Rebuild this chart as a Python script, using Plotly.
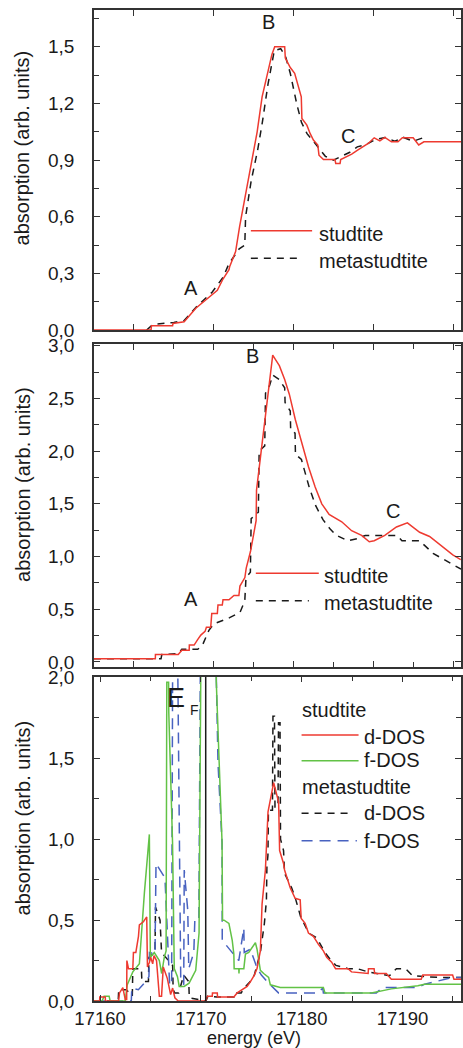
import plotly.graph_objects as go

# ---------------- data (energy in eV, absorption in arb. units) ----------------
# top panel: experimental XANES
xanes_studtite = [
    (17155.0, 0.0), (17162.15, 0.0), (17162.2, 0.023), (17164.85, 0.023), (17164.9, 0.035),
    (17166.3, 0.044), (17167.76, 0.115), (17169.0, 0.16), (17169.75, 0.185), (17170.46, 0.21),
    (17171.17, 0.27), (17171.92, 0.32), (17172.0, 0.335), (17172.75, 0.415), (17173.25, 0.547),
    (17174.0, 0.715), (17174.7, 0.865), (17175.45, 1.05), (17176.07, 1.235), (17176.82, 1.376),
    (17177.3, 1.46), (17177.65, 1.5), (17178.9, 1.5), (17178.98, 1.44), (17179.6, 1.39),
    (17180.15, 1.36), (17180.64, 1.29), (17180.98, 1.235), (17181.06, 1.12), (17181.68, 1.085),
    (17182.1, 1.04), (17182.5, 1.006), (17183.05, 0.98), (17183.2, 0.926), (17183.76, 0.903),
    (17185.2, 0.903), (17185.3, 0.882), (17185.84, 0.882), (17185.92, 0.903), (17186.67, 0.918),
    (17187.3, 0.932), (17188.04, 0.953), (17188.75, 0.974), (17189.37, 0.988), (17190.12, 1.018),
    (17190.83, 1.002), (17191.45, 1.02), (17192.28, 0.997), (17193.1, 0.997), (17193.65, 1.018),
    (17195.0, 1.018), (17195.7, 0.98), (17196.35, 0.997), (17201.0, 0.997),
]
xanes_metastudtite = [
    (17161.6, 0.0), (17162.4, 0.03), (17165.0, 0.04), (17166.3, 0.05), (17168.0, 0.13),
    (17169.8, 0.2), (17171.2, 0.28), (17171.9, 0.35), (17173.2, 0.43), (17173.9, 0.45),
    (17174.0, 0.6), (17174.7, 0.79), (17175.5, 0.95), (17176.1, 1.1), (17176.8, 1.3),
    (17177.6, 1.48), (17178.4, 1.49), (17179.0, 1.45), (17179.6, 1.36), (17180.4, 1.2),
    (17181.0, 1.1), (17181.7, 1.04), (17182.5, 1.0), (17183.2, 0.96), (17184.0, 0.92),
    (17185.0, 0.9), (17186.0, 0.92), (17187.0, 0.94), (17188.0, 0.97), (17189.0, 0.98),
    (17190.3, 1.01), (17191.5, 1.02), (17192.7, 1.0), (17193.8, 1.02), (17195.0, 1.0),
    (17196.4, 1.02),
]
# middle panel: calculated XANES
calc_studtite = [
    (17155.0, 0.03), (17162.69, 0.03), (17162.7, 0.07), (17165.56, 0.07), (17166.01, 0.11),
    (17166.5, 0.11), (17166.93, 0.11), (17166.95, 0.16), (17167.55, 0.16), (17167.97, 0.21),
    (17168.39, 0.255), (17168.92, 0.29), (17169.09, 0.33), (17169.63, 0.33), (17169.76, 0.46),
    (17170.46, 0.46), (17170.54, 0.54), (17171.08, 0.54), (17171.17, 0.59), (17171.92, 0.59),
    (17172.54, 0.63), (17173.16, 0.63), (17173.29, 0.72), (17173.91, 0.8), (17174.08, 0.89),
    (17174.62, 1.05), (17175.03, 1.23), (17175.32, 1.34), (17175.37, 1.63), (17175.66, 1.82),
    (17176.07, 2.04), (17176.49, 2.33), (17176.9, 2.62), (17177.4, 2.91), (17177.73, 2.87),
    (17178.23, 2.81), (17178.9, 2.68), (17179.48, 2.54), (17180.23, 2.3), (17181.06, 2.08),
    (17181.89, 1.85), (17182.72, 1.66), (17183.55, 1.5), (17184.47, 1.4), (17186.05, 1.33),
    (17187.29, 1.245), (17188.54, 1.2), (17189.5, 1.14), (17190.12, 1.15), (17191.45, 1.2),
    (17192.91, 1.28), (17194.28, 1.32), (17195.82, 1.23), (17197.06, 1.19), (17198.52, 1.1),
    (17199.97, 1.015), (17200.97, 0.97),
]
calc_metastudtite = [
    (17155.0, 0.03), (17163.4, 0.03), (17163.5, 0.07), (17165.6, 0.08), (17166.0, 0.12),
    (17168.0, 0.12), (17168.6, 0.16), (17169.4, 0.3), (17170.0, 0.36), (17172.0, 0.42),
    (17173.3, 0.47), (17173.9, 0.58), (17174.05, 0.8), (17174.6, 0.85), (17174.7, 1.36),
    (17175.6, 1.42), (17175.7, 2.0), (17176.4, 2.05), (17176.5, 2.55), (17177.0, 2.62),
    (17177.4, 2.72), (17178.2, 2.68), (17178.9, 2.6), (17178.95, 2.46), (17179.6, 2.38),
    (17179.65, 2.2), (17180.2, 2.17), (17180.25, 1.97), (17181.0, 1.92), (17182.0, 1.65),
    (17182.8, 1.48), (17183.7, 1.35), (17184.6, 1.26), (17185.4, 1.2), (17186.8, 1.15),
    (17188.0, 1.17), (17189.0, 1.2), (17193.0, 1.2), (17193.6, 1.15), (17195.8, 1.15),
    (17197.5, 1.03), (17199.5, 0.94), (17201.0, 0.88),
]
# bottom panel: projected densities of states
ddos_studtite = [
    (17159.4, 0.0), (17159.96, 0.0), (17159.97, 0.025), (17160.52, 0.025), (17160.53, 0.0),
    (17161.84, 0.0), (17161.93, 0.05), (17162.26, 0.083), (17162.5, 0.01), (17162.64, 0.01),
    (17162.66, 0.25), (17162.82, 0.2), (17163.25, 0.2), (17163.31, 0.3), (17163.55, 0.3),
    (17163.81, 0.4), (17163.9, 0.47), (17164.3, 0.49), (17164.63, 0.52), (17164.7, 0.21),
    (17164.9, 0.24), (17165.02, 0.27), (17165.22, 0.23), (17165.35, 0.28), (17165.6, 0.25),
    (17165.88, 0.03), (17166.1, 0.03), (17166.27, 0.21), (17166.67, 0.14), (17167.0, 0.04),
    (17167.2, 0.08), (17167.42, 0.02), (17167.75, 0.0), (17170.5, 0.0), (17170.64, 0.03),
    (17171.13, 0.03), (17171.15, 0.05), (17171.63, 0.05), (17171.65, 0.025), (17173.27, 0.025),
    (17173.6, 0.05), (17174.09, 0.07), (17174.59, 0.09), (17174.92, 0.12), (17175.3, 0.16),
    (17175.57, 0.2), (17175.9, 0.31), (17176.07, 0.6), (17176.4, 0.81), (17176.66, 1.17),
    (17177.22, 1.35), (17177.71, 1.23), (17177.81, 0.93), (17178.2, 0.85), (17178.3, 0.81),
    (17178.86, 0.7), (17179.35, 0.635), (17179.85, 0.625), (17179.95, 0.51), (17180.34, 0.48),
    (17180.67, 0.42), (17181.16, 0.4), (17181.66, 0.35), (17182.15, 0.31), (17182.48, 0.27),
    (17182.97, 0.24), (17183.36, 0.2), (17184.61, 0.2), (17184.94, 0.18), (17186.59, 0.17),
    (17186.62, 0.2), (17187.18, 0.2), (17187.24, 0.17), (17188.39, 0.17), (17188.89, 0.135),
    (17191.85, 0.135), (17192.01, 0.16), (17194.97, 0.16), (17195.1, 0.135), (17195.8, 0.135),
]
fdos_studtite = [
    (17159.4, 0.0), (17160.2, 0.0), (17160.4, 0.03), (17160.9, 0.03), (17161.0, 0.0),
    (17162.5, 0.0), (17162.69, 0.1), (17163.25, 0.18), (17163.9, 0.23), (17164.4, 0.67),
    (17164.89, 1.03), (17164.99, 0.27), (17165.38, 0.3), (17165.88, 0.25), (17166.11, 0.17),
    (17166.37, 0.27), (17166.55, 0.31), (17166.62, 1.97), (17166.8, 1.97), (17166.82, 1.78),
    (17167.19, 0.98), (17167.36, 0.2), (17167.68, 0.15), (17167.85, 0.09), (17168.34, 0.09),
    (17168.83, 0.11), (17169.49, 0.19), (17169.82, 0.42), (17170.0, 2.1), (17171.5, 2.1),
    (17171.53, 1.97), (17172.1, 0.98), (17172.15, 0.5), (17172.3, 0.5), (17172.78, 0.48),
    (17173.11, 0.375), (17173.27, 0.29), (17173.3, 0.2), (17173.76, 0.2), (17173.78, 0.17),
    (17173.8, 0.2), (17174.26, 0.2), (17174.42, 0.29), (17174.75, 0.3), (17175.41, 0.36),
    (17175.57, 0.32), (17175.9, 0.19), (17176.23, 0.17), (17176.72, 0.146), (17176.89, 0.1),
    (17177.87, 0.083), (17182.15, 0.083), (17182.31, 0.05), (17186.91, 0.05), (17188.89, 0.075),
    (17191.52, 0.094), (17192.17, 0.104), (17195.8, 0.104),
]
ddos_metastudtite = [
    (17159.4, 0.0), (17161.8, 0.0), (17161.85, 0.07), (17162.6, 0.07), (17163.2, 0.03),
    (17163.25, 0.2), (17164.1, 0.2), (17164.15, 0.12), (17164.8, 0.12), (17164.85, 0.27),
    (17165.45, 0.3), (17165.5, 0.58), (17165.95, 0.5), (17166.0, 0.42), (17166.1, 0.3),
    (17167.2, 0.22), (17167.25, 0.07), (17167.4, 0.05), (17167.8, 0.05), (17168.3, 0.16),
    (17168.8, 0.12), (17168.85, 0.02), (17170.2, 0.0), (17170.5, 0.0), (17170.7, 0.03),
    (17171.6, 0.025), (17173.27, 0.025), (17173.3, 0.05), (17174.0, 0.05), (17174.3, 0.08),
    (17174.9, 0.12), (17175.3, 0.16), (17175.9, 0.3), (17176.3, 0.48), (17176.5, 0.62),
    (17176.55, 0.83), (17176.65, 0.9), (17176.7, 1.18), (17177.1, 1.18), (17177.15, 1.76),
    (17177.3, 1.76), (17177.35, 1.2), (17177.65, 1.2), (17177.7, 1.72), (17177.85, 1.72),
    (17177.9, 1.0), (17178.2, 0.93), (17178.3, 0.79), (17179.0, 0.7), (17179.35, 0.64),
    (17179.9, 0.52), (17180.7, 0.42), (17181.5, 0.39), (17182.3, 0.3), (17182.8, 0.26),
    (17183.4, 0.22), (17184.6, 0.2), (17185.5, 0.2), (17186.6, 0.18), (17188.7, 0.156),
    (17189.4, 0.2), (17190.3, 0.2), (17191.0, 0.156), (17193.5, 0.146), (17195.8, 0.146),
]
fdos_metastudtite = [
    (17159.4, 0.0), (17163.1, 0.0), (17163.15, 0.08), (17163.8, 0.07), (17164.46, 0.115),
    (17164.85, 0.15), (17164.9, 0.3), (17165.45, 0.29), (17165.55, 0.85), (17165.95, 0.81),
    (17166.44, 0.76), (17166.9, 0.1), (17167.1, 0.1), (17167.2, 2.1), (17167.7, 2.1),
    (17167.75, 1.8), (17168.0, 0.15), (17168.3, 0.1), (17168.35, 0.81), (17168.7, 0.56),
    (17168.8, 0.2), (17169.3, 0.3), (17169.4, 0.5), (17169.8, 0.5), (17169.95, 2.1),
    (17171.5, 2.1), (17171.53, 1.99), (17171.7, 1.47), (17172.1, 0.98), (17172.12, 0.375),
    (17173.76, 0.25), (17174.26, 0.45), (17174.3, 0.3), (17174.9, 0.32), (17175.6, 0.2),
    (17176.0, 0.16), (17176.72, 0.11), (17177.7, 0.05), (17181.6, 0.05), (17182.1, 0.08),
    (17182.15, 0.05), (17187.4, 0.05), (17188.0, 0.083), (17191.5, 0.083), (17192.2, 0.104),
    (17193.5, 0.125), (17195.0, 0.146), (17195.8, 0.146),
]
fermi_energy = 17170.48

# ticks
x_ticks_upper = [17160, 17170, 17180, 17190, 17200]
x_minor_upper = [17165, 17175, 17185, 17195]
x_ticks_dos = [17160, 17170, 17180, 17190]
x_ticklabels_dos = ["17160", "17170", "17180", "17190"]
x_minor_dos = [17165, 17175, 17185, 17195]
y1_ticks = [0.0, 0.3, 0.6, 0.9, 1.2, 1.5]
y1_labels = ["0,0", "0,3", "0,6", "0,9", "1,2", "1,5"]
y1_minor = [0.15, 0.45, 0.75, 1.05, 1.35, 1.65]
y2_ticks = [0.0, 0.5, 1.0, 1.5, 2.0, 2.5, 3.0]
y2_labels = ["0,0", "0,5", "1,0", "1,5", "2,0", "2,5", "3,0"]
y2_minor = [0.25, 0.75, 1.25, 1.75, 2.25, 2.75]
y3_ticks = [0.0, 0.5, 1.0, 1.5, 2.0]
y3_labels = ["0,0", "0,5", "1,0", "1,5", "2,0"]
y3_minor = [0.25, 0.75, 1.25, 1.75]

y_title = "absorption (arb. units)"
x_title = "energy (eV)"

# ---------------- styling ----------------
FONT = "Liberation Sans, Arial, Helvetica, sans-serif"
TXT = "#1a1a1a"
AX = "#333333"
RED = "#ee3a30"
GREEN = "#62c246"
BLUE = "#4862c0"
BLACK = "#1a1a1a"
DASH_BLACK = "7px,6px"
DASH_BLUE = "11px,7px"

W, H = 463, 1048
ML, MR, MT, MB = 94, 0, 10, 47
PW, PH = W - ML - MR, H - MT - MB


def pp(px, py):
    """pixel position -> paper coordinates"""
    return (px - ML) / PW, (H - MB - py) / PH


fig = go.Figure()


def add_line(pairs, color, dash, ax, name):
    fig.add_trace(go.Scatter(
        x=[p[0] for p in pairs], y=[p[1] for p in pairs], mode="lines", name=name,
        showlegend=False, line=dict(color=color, width=1.5, dash=dash),
        xaxis="x" + ax, yaxis="y" + ax))


add_line(xanes_metastudtite, BLACK, DASH_BLACK, "", "metastudtite")
add_line(xanes_studtite, RED, "solid", "", "studtite")
add_line(calc_metastudtite, BLACK, DASH_BLACK, "2", "metastudtite")
add_line(calc_studtite, RED, "solid", "2", "studtite")
add_line(ddos_metastudtite, BLACK, DASH_BLACK, "3", "metastudtite d-DOS")
add_line(fdos_metastudtite, BLUE, DASH_BLUE, "3", "metastudtite f-DOS")
add_line(fdos_studtite, GREEN, "solid", "3", "studtite f-DOS")
add_line(ddos_studtite, RED, "solid", "3", "studtite d-DOS")

axis_base = dict(showline=True, linecolor=AX, linewidth=1.5, mirror="ticks", ticks="inside",
                 ticklen=6, tickwidth=1.2, tickcolor=AX, showgrid=False, zeroline=False,
                 tickfont=dict(family=FONT, size=19, color=TXT))
minor_base = dict(ticks="inside", ticklen=5, tickwidth=1.2, tickcolor=AX, showgrid=False)

d1 = [pp(0, 330)[1], pp(0, 10)[1]]
d2 = [pp(0, 666.7)[1], pp(0, 344.3)[1]]
d3 = [pp(0, 1001)[1], pp(0, 676.7)[1]]

fig.update_layout(
    width=W, height=H, margin=dict(l=ML, r=MR, t=MT, b=MB),
    paper_bgcolor="white", plot_bgcolor="white", showlegend=False,
    font=dict(family=FONT, size=20, color=TXT),
    xaxis=dict(axis_base, domain=[0, 1], anchor="y", range=[17155, 17201],
               tickvals=x_ticks_upper, showticklabels=False),
    yaxis=dict(axis_base, domain=d1, anchor="x", range=[0, 1.695], tickvals=y1_ticks,
               ticktext=y1_labels, minor=dict(minor_base, tickvals=y1_minor),
               ticklabelstandoff=14),
    xaxis2=dict(axis_base, domain=[0, 1], anchor="y2", range=[17155, 17201],
                tickvals=x_ticks_upper, showticklabels=False,
                minor=dict(minor_base, tickvals=x_minor_upper)),
    yaxis2=dict(axis_base, domain=d2, anchor="x2", range=[-0.045, 3.013], tickvals=y2_ticks,
                ticktext=y2_labels, minor=dict(minor_base, tickvals=y2_minor),
                ticklabelstandoff=14),
    xaxis3=dict(axis_base, domain=[0, 1], anchor="y3", range=[17159.4, 17195.8],
                tickvals=x_ticks_dos, ticktext=x_ticklabels_dos,
                tickfont=dict(family=FONT, size=18.5, color=TXT),
                minor=dict(minor_base, tickvals=x_minor_dos), ticklabelstandoff=0),
    yaxis3=dict(axis_base, domain=d3, anchor="x3", range=[0, 2.005], tickvals=y3_ticks,
                ticktext=y3_labels, minor=dict(minor_base, tickvals=y3_minor),
                ticklabelstandoff=14),
)

# Fermi level marker
fig.add_shape(type="line", xref="x3", yref="y3 domain", x0=fermi_energy, x1=fermi_energy,
              y0=0, y1=1, line=dict(color=BLACK, width=1.5))

annotations = []


def label(text, x, y, xref, yref, size=20, xanchor="center", angle=0):
    annotations.append(dict(text=text, x=x, y=y, xref=xref, yref=yref, showarrow=False,
                            xanchor=xanchor, yanchor="middle", textangle=angle,
                            font=dict(family=FONT, size=size, color=TXT)))


# axis titles (placed where the reference puts them)
for cy in (147.5, 484.0, 817.5):
    tx, ty = pp(22.5, cy)
    label(y_title, tx, ty, "paper", "paper", angle=-90)
tx, ty = pp(254.5, 1038.0)
label(x_title, tx, ty, "paper", "paper", size=18)

# feature labels
label("A", 17167.14, 0.22, "x", "y")
label("B", 17176.9, 1.63, "x", "y")
label("C", 17186.8, 1.03, "x", "y")
label("A", 17167.14, 0.6, "x2", "y2")
label("B", 17174.83, 2.9, "x2", "y2")
label("C", 17192.5, 1.43, "x2", "y2")
label("E", 17167.55, 1.875, "x3", "y3", size=27)
label("F", 17169.4, 1.8, "x3", "y3", size=14)


# hand-placed legends (sample line + text)
def legend_item(x0, x1, yline, text, tx, ty, color, dash):
    a0, b0 = pp(x0, yline)
    a1, _ = pp(x1, yline)
    fig.add_shape(type="line", xref="paper", yref="paper", x0=a0, x1=a1, y0=b0, y1=b0,
                  line=dict(color=color, width=1.5, dash=dash))
    tx_, ty_ = pp(tx, ty)
    label(text, tx_, ty_, "paper", "paper", xanchor="left")


legend_item(251.7, 313.3, 230.7, "studtite", 318, 233.7, RED, "solid")
legend_item(251.7, 303.3, 258.3, "metastudtite", 318, 261.3, BLACK, DASH_BLACK)
legend_item(256.7, 320.0, 573.3, "studtite", 323, 576.3, RED, "solid")
legend_item(256.7, 310.0, 600.7, "metastudtite", 323, 603.0, BLACK, DASH_BLACK)

gx, gy = pp(300.7, 710.3)
label("studtite", gx, gy, "paper", "paper", xanchor="left")
legend_item(302.7, 360.0, 735.0, "d-DOS", 363, 737.3, RED, "solid")
legend_item(302.7, 360.0, 760.7, "f-DOS", 363, 760.0, GREEN, "solid")
gx, gy = pp(300.7, 787.0)
label("metastudtite", gx, gy, "paper", "paper", xanchor="left")
legend_item(302.7, 353.3, 813.3, "d-DOS", 363, 813.3, BLACK, DASH_BLACK)
legend_item(302.7, 358.3, 840.7, "f-DOS", 363, 841.0, BLUE, DASH_BLUE)

fig.update_layout(annotations=annotations)

# the page's default 8px body margin would shift the figure; remove it
fig.write_html("out.html", config={"displayModeBar": False},
               post_script="document.body.style.margin='0px';document.body.style.overflow='hidden';")
